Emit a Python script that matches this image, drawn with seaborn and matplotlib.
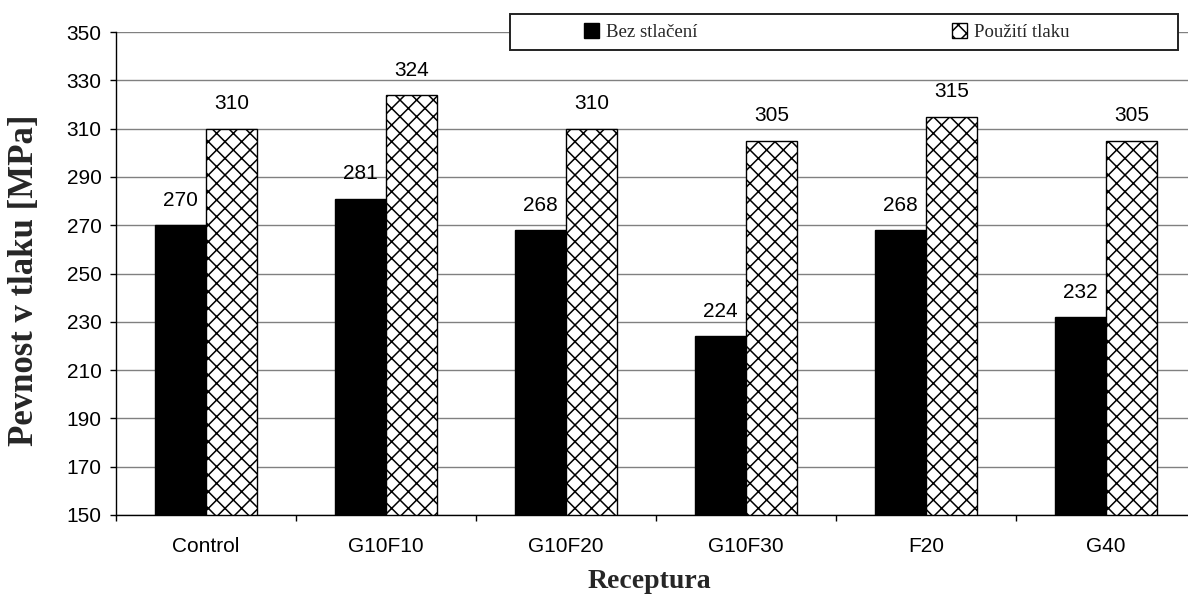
import matplotlib
matplotlib.use("Agg")
import matplotlib.pyplot as plt
import seaborn as sns
import pandas as pd
from matplotlib.patches import Rectangle, Patch

categories = ["Control", "G10F10", "G10F20", "G10F30", "F20", "G40"]
series_names = ["Bez stlačení", "Použití tlaku"]
bez_stlaceni = [270, 281, 268, 224, 268, 232]
pouziti_tlaku = [310, 324, 310, 305, 315, 305]
y_ticks = list(range(150, 351, 20))

df = pd.DataFrame({
    "Receptura": categories * 2,
    "Serie": [series_names[0]] * len(categories) + [series_names[1]] * len(categories),
    "Hodnota": bez_stlaceni + pouziti_tlaku,
})

sns.set_theme(style="white")
plt.rcParams["font.family"] = ["Liberation Sans", "DejaVu Sans"]
plt.rcParams["hatch.linewidth"] = 1.1
plt.rcParams["hatch.color"] = "black"

fig = plt.figure(figsize=(11.88, 5.99), dpi=100)
ax = fig.add_axes([116 / 1188, 84 / 599, 1080 / 1188, 483 / 599])

sns.barplot(data=df, x="Receptura", y="Hodnota", hue="Serie", order=categories,
            hue_order=series_names, palette={series_names[0]: "black", series_names[1]: "white"},
            width=0.567, edgecolor="black", linewidth=1.0, saturation=1, ax=ax, legend=False,
            errorbar=None)

for p in ax.containers[1]:
    p.set_hatch("xx")
    p.set_edgecolor("black")

for c in ax.containers:
    ax.bar_label(c, padding=11, fontsize=15, color="black")

ax.set_ylim(150, 350)
ax.set_xlim(-0.5, 5.455)
ax.set_yticks(y_ticks)
ax.set_yticklabels([str(t) for t in y_ticks], fontsize=15)
ax.set_xticks(range(len(categories)))
ax.set_xticklabels(categories, fontsize=15)
ax.set_xticks([i - 0.5 for i in range(len(categories) + 1)], minor=True)
ax.tick_params(axis="x", which="major", length=0, pad=16, colors="black")
ax.tick_params(axis="x", which="minor", length=4.5, width=1, direction="out", color="black", bottom=True)
ax.tick_params(axis="y", which="major", length=4.5, width=1, direction="out", pad=6, colors="black", left=True)

ax.grid(axis="y", color="#808080", linewidth=1.0)
ax.set_axisbelow(True)
for s in ["top", "right"]:
    ax.spines[s].set_visible(False)
for s in ["left", "bottom"]:
    ax.spines[s].set_color("black")
    ax.spines[s].set_linewidth(1.0)

ax.set_ylabel("Pevnost v tlaku [MPa]", fontsize=25, fontweight="bold",
              family=["Liberation Serif", "DejaVu Serif"])
ax.set_xlabel("Receptura", fontsize=20, fontweight="bold",
              family=["Liberation Serif", "DejaVu Serif"])
ax.yaxis.set_label_coords(-0.069, 0.487)
ax.xaxis.set_label_coords(0.494, -0.112)

# legend box
box = Rectangle((510 / 1188, 1 - 50 / 599), 668 / 1188, 36 / 599, transform=fig.transFigure,
                facecolor="white", edgecolor="#222222", linewidth=1.4, zorder=1)
fig.patches.append(box)
handles = [Patch(facecolor="black", edgecolor="black"),
           Patch(facecolor="white", edgecolor="black", hatch="xx")]
fig.legend(handles, series_names, loc="center left", bbox_to_anchor=(575 / 1188, 1 - 32 / 599),
           ncol=2, frameon=False, borderpad=0, handlelength=0.8, handleheight=0.8,
           handletextpad=0.35, columnspacing=13.6,
           prop={"family": ["Liberation Serif", "DejaVu Serif"], "size": 13.5})

fig.savefig("out.png", dpi=100, facecolor="white")
